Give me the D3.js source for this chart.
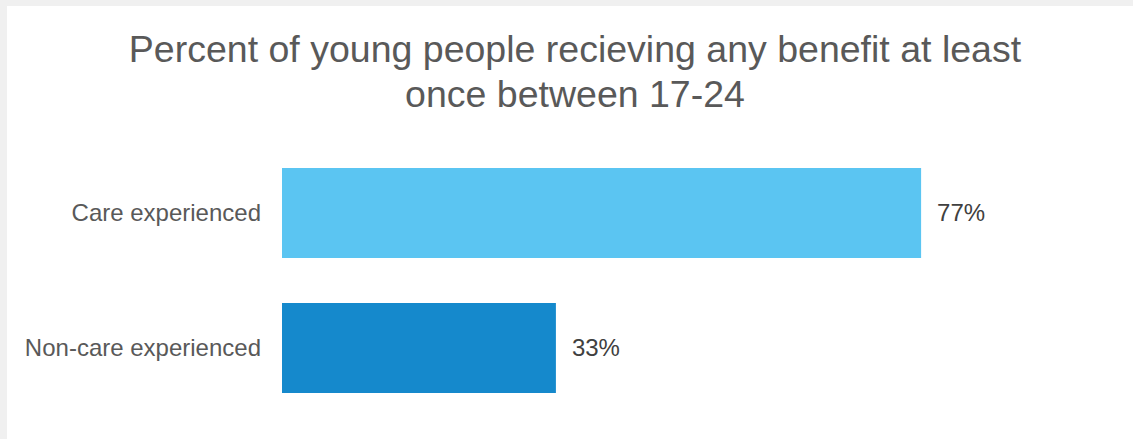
<!DOCTYPE html>
<html>
<head>
<meta charset="utf-8">
<script src="https://cdn.jsdelivr.net/npm/d3@7"></script>
<style>
  body { margin: 0; background: #f0f0f0; }
  svg { display: block; font-family: "Liberation Sans", Arial, sans-serif; }
</style>
</head>
<body>
<div id="chart"></div>
<script>
// data
var categories = ['Care experienced', 'Non-care experienced'];
var values = [0.77, 0.33];
var valueLabels = ['77%', '33%'];
var colors = ['#5bc5f2', '#1589cc'];
var titleLines = ['Percent of young people recieving any benefit at least', 'once between 17-24'];

var width = 1133, height = 439;

var svg = d3.select('#chart').append('svg')
    .attr('width', width)
    .attr('height', height);

// white panel
svg.append('rect')
    .attr('x', 7).attr('y', 6)
    .attr('width', width - 7).attr('height', height - 6)
    .attr('fill', '#ffffff');

// title
svg.append('g').selectAll('text')
    .data(titleLines)
    .enter().append('text')
    .attr('x', 575)
    .attr('y', function(d, i){ return 62 + i * 45; })
    .attr('text-anchor', 'middle')
    .attr('font-size', 37.5)
    .attr('fill', '#595959')
    .text(function(d){ return d; });

var x = d3.scaleLinear().domain([0, 1]).range([282, 1112]);
var y = d3.scaleBand().domain(categories).range([145.5, 415.5])
    .paddingInner(1 / 3).paddingOuter(1 / 6);

svg.append('g').selectAll('rect')
    .data(categories)
    .enter().append('rect')
    .attr('x', x(0))
    .attr('y', function(d){ return y(d); })
    .attr('width', function(d, i){ return x(values[i]) - x(0); })
    .attr('height', y.bandwidth())
    .attr('fill', function(d, i){ return colors[i]; });

// category labels
svg.append('g').selectAll('text')
    .data(categories)
    .enter().append('text')
    .attr('x', 261)
    .attr('y', function(d){ return y(d) + y.bandwidth() / 2; })
    .attr('dy', '0.35em')
    .attr('text-anchor', 'end')
    .attr('font-size', 24)
    .attr('fill', '#595959')
    .text(function(d){ return d; });

// value labels
svg.append('g').selectAll('text')
    .data(categories)
    .enter().append('text')
    .attr('x', function(d, i){ return x(values[i]) + 16; })
    .attr('y', function(d){ return y(d) + y.bandwidth() / 2; })
    .attr('dy', '0.35em')
    .attr('font-size', 24)
    .attr('fill', '#404040')
    .text(function(d, i){ return valueLabels[i]; });
</script>
</body>
</html>
